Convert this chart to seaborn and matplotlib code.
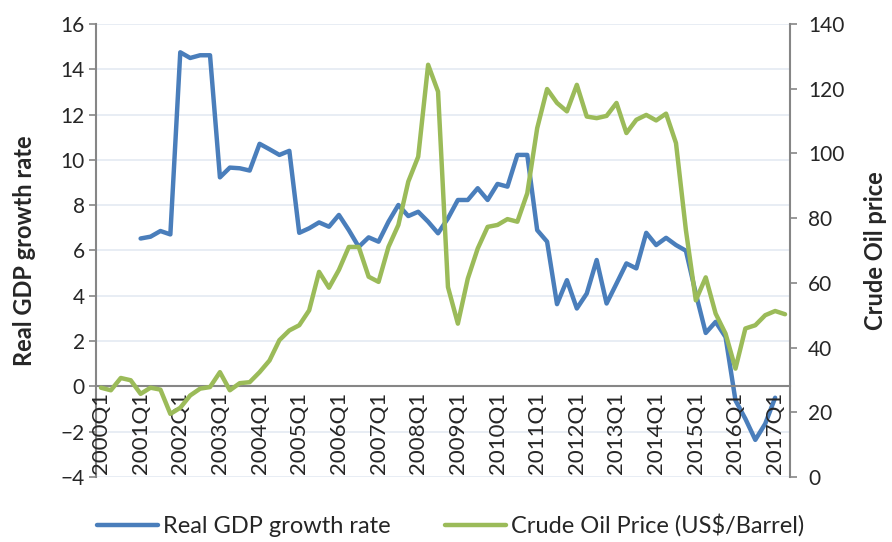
import numpy as np
import pandas as pd
import matplotlib
matplotlib.use("Agg")
import matplotlib.pyplot as plt
import seaborn as sns

# quarterly data, 2000Q1 - 2017Q2
quarters = [f"{y}Q{q}" for y in range(2000, 2018) for q in range(1, 5)][:70]

gdp_growth = [np.nan, np.nan, np.nan, np.nan,
              6.53, 6.61, 6.86, 6.71, 14.75, 14.50, 14.62, 14.62,
              9.23, 9.66, 9.63, 9.53, 10.71, 10.47, 10.22, 10.40,
              6.78, 6.98, 7.24, 7.05, 7.57, 6.90, 6.16, 6.58,
              6.39, 7.27, 8.01, 7.52, 7.71, 7.27, 6.76, 7.42,
              8.23, 8.23, 8.75, 8.23, 8.94, 8.82, 10.22, 10.22,
              6.90, 6.39, 3.63, 4.69, 3.44, 4.10, 5.58, 3.66,
              4.54, 5.43, 5.21, 6.78, 6.24, 6.56, 6.24, 5.99,
              4.10, 2.36, 2.85, 2.18, -0.62, -1.43, -2.36, -1.65,
              -0.50, np.nan]

oil_price = [27.6, 26.8, 30.6, 29.9, 25.7, 27.6, 27.0, 19.5, 21.4, 25.2,
             27.3, 27.8, 32.4, 26.8, 29.0, 29.3, 32.4, 36.0, 42.3, 45.3,
             46.9, 51.5, 63.4, 58.5, 64.0, 71.1, 71.1, 61.9, 60.3, 71.1,
             77.9, 91.3, 99.0, 127.4, 119.1, 58.7, 47.4, 61.3, 70.6, 77.3,
             77.9, 79.7, 78.9, 87.7, 107.8, 119.9, 115.6, 113.0, 121.2, 111.4,
             110.9, 111.6, 115.6, 106.3, 110.4, 111.9, 110.2, 112.3, 103.2, 76.3,
             54.6, 61.7, 50.5, 44.3, 33.5, 45.9, 46.9, 50.0, 51.3, 50.3]

df = pd.DataFrame({"pos": np.arange(len(quarters)), "quarter": quarters,
                   "gdp": gdp_growth, "oil": oil_price})

sns.set_style("white")
plt.rcParams['font.family'] = ['Lato', 'DejaVu Sans']

BLUE = "#4A7EBB"
GREEN = "#9BBB59"
AXCOL = "#868686"

fig = plt.figure(figsize=(8.92, 5.42), dpi=100)
ax = fig.add_axes([96/892, 1-477/542, (790-96)/892, (477-24)/542])
ax2 = ax.twinx()

sns.lineplot(data=df, x="pos", y="gdp", ax=ax, color=BLUE, lw=3.2,
             label="Real GDP growth rate", legend=False)
sns.lineplot(data=df, x="pos", y="oil", ax=ax2, color=GREEN, lw=3.2,
             label="Crude Oil Price (US$/Barrel)", legend=False)

ax.set_xlim(-0.5, len(quarters) - 0.5)
ax.set_ylim(-4, 16)
ax.set_yticks(np.arange(-4, 17, 2))
ax2.set_ylim(0, 140)
ax2.set_yticks(np.arange(0, 141, 20))

ax.yaxis.grid(True, color="#E6ECF3", lw=1.3)
ax.xaxis.grid(False)
ax.set_axisbelow(True)
ax.xaxis.set_zorder(3)  # keep labels above the gridlines

# x axis crosses at zero
for s in ["top", "right"]:
    ax.spines[s].set_visible(False)
ax.spines["bottom"].set_position(("data", 0))
ax.spines["bottom"].set_color(AXCOL)
ax.spines["bottom"].set_linewidth(1.5)
ax.spines["left"].set_color(AXCOL)
ax.spines["left"].set_linewidth(1.5)
for s in ["top", "bottom", "left"]:
    ax2.spines[s].set_visible(False)
ax2.spines["right"].set_color(AXCOL)
ax2.spines["right"].set_linewidth(1.5)

ax.set_xticks(df["pos"][::4])
ax.set_xticklabels(df["quarter"][::4], rotation=90)
ax.set_xticks(np.arange(-0.5, len(quarters)), minor=True)
ax.tick_params(axis="x", which="major", length=0, pad=4, labelsize=16)
ax.tick_params(axis="x", which="minor", length=5, width=1.2, color=AXCOL, direction="out")
ax.tick_params(axis="y", length=5, width=1.2, color=AXCOL, labelsize=15, pad=3)
ax2.tick_params(axis="y", length=5, width=1.2, color=AXCOL, labelsize=15, pad=8)

ax.set_xlabel("")
ax.set_ylabel("Real GDP growth rate", fontsize=17, fontweight="bold", labelpad=18)
ax2.set_ylabel("Crude Oil price", fontsize=17, fontweight="bold", rotation=90, labelpad=14)

h1, l1 = ax.get_legend_handles_labels()
h2, l2 = ax2.get_legend_handles_labels()
fig.legend(h1 + h2, l1 + l2, loc="lower center", bbox_to_anchor=(0.505, -0.03),
           ncol=2, frameon=False, fontsize=17, handlelength=2.6,
           handletextpad=0.2, columnspacing=2.3)

fig.savefig("out.png", dpi=100)
